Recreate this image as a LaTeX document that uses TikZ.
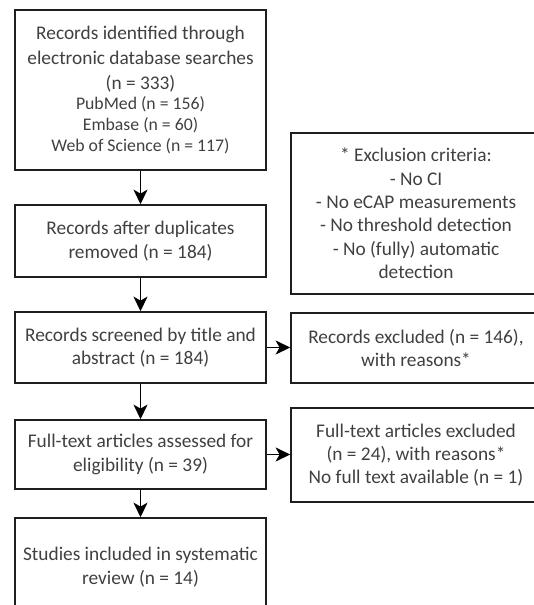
\documentclass[tikz,border=0pt]{standalone}
\usepackage{fontspec}
\setmainfont{Carlito}
\usetikzlibrary{arrows.meta,calc}
\definecolor{txtgray}{HTML}{404040}
\definecolor{linegray}{HTML}{1E1E1E}
\tikzset{
  flowbox/.style = {draw=linegray, line width=1.1pt, align=center, inner sep=0pt, text=txtgray,
    font=\fontsize{14.5}{17.5}\selectfont},
  box_l/.style = {flowbox, minimum width=188.25pt},
  box_r/.style = {flowbox, minimum width=187.5pt},
  arr/.style = {draw=black, line width=1.1pt, -{Stealth[length=11pt, width=10.5pt, inset=3pt]}}
}
\newcommand{\subline}[1]{{\fontsize{13.3}{16}\selectfont #1}}

\begin{document}
\begin{tikzpicture}[x=0.75pt, y=-0.75pt]
			\useasboundingbox (0,0) rectangle (533,605);
			\node[box_l, minimum height=120pt] (ident) at (140.5,90)
				{Records identified through\\[1pt]electronic database searches\\[1pt](n = 333)\\[-2pt]
				 \subline{PubMed (n = 156)}\\[-2pt]\subline{Embase (n = 60)}\\[-2pt]\subline{Web of Science (n = 117)}};
			\node[box_l, minimum height=54pt] (dup) at (140.5,241) {Records after duplicates\\removed (n = 184)};
			\node[box_l, minimum height=53.25pt] (screen) at (140.5,347.5) {Records screened by title and\\abstract (n = 184)};
			\node[box_l, minimum height=51.75pt] (full) at (140.5,454.5) {Full-text articles assessed for\\eligibility (n = 39)};
			\node[box_l, minimum height=73.5pt] (incl) at (140.5,567) {Studies included in systematic\\review (n = 14)};
			\node[box_r, minimum height=120.75pt] (crit) at (416,213.5)
				{* Exclusion criteria:\\- No CI\\- No eCAP measurements\\- No threshold detection\\- No (fully) automatic\\detection};
			\node[box_r, minimum height=52.5pt] (recex) at (416,348) {Records excluded (n = 146),\\with reasons*};
			\node[box_r, minimum height=70.5pt] (fullex) at (416,455)
				{Full-text articles excluded\\(n = 24), with reasons*\\No full text available (n = 1)};
			\draw[arr] (ident) -- (dup);
			\draw[arr] (dup) -- (screen);
			\draw[arr] (screen) -- (full);
			\draw[arr] (full) -- (incl);
			\draw[arr] (screen.east) -- (screen.east -| recex.west);
			\draw[arr] (full.east) -- (full.east -| fullex.west);
		\end{tikzpicture}
\end{document}
